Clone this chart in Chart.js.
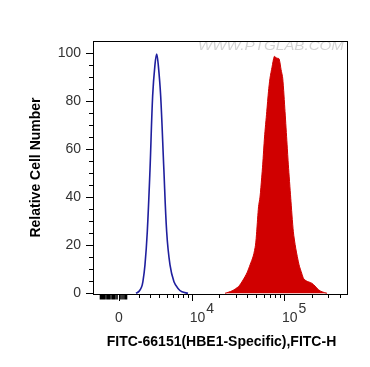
<!DOCTYPE html>
<html>
<head>
<meta charset="utf-8">
<script src="https://cdn.jsdelivr.net/npm/chart.js@4"></script>
<style>
  html, body { margin: 0; padding: 0; background: #fff; }
  #wrap { width: 370px; height: 367px; }
</style>
</head>
<body>
<div id="wrap"><canvas id="hist" width="370" height="367"></canvas></div>
<script>
// x values are display positions on the biexponential axis (10^4 -> 4, 10^5 -> 5)
const isotypeX = [3.397, 3.429, 3.456, 3.472, 3.494, 3.519, 3.548, 3.577, 3.602, 3.621, 3.638, 3.664, 3.698, 3.729, 3.765, 3.808, 3.852, 3.895, 3.960];
const isotypeY = [0, 0.8, 2.5, 5, 11.8, 25.6, 51, 82, 95, 99.5, 95, 82, 52, 25.6, 11.8, 4.8, 2, 0.6, 0];

const stainedX = [4.361, 4.437, 4.507, 4.556, 4.599, 4.632, 4.667, 4.691, 4.704, 4.724, 4.740, 4.758, 4.769, 4.789, 4.813, 4.832, 4.848, 4.870, 4.895, 4.919, 4.946, 4.968, 4.986, 5.011, 5.033, 5.047, 5.073, 5.101, 5.127, 5.163, 5.192, 5.211, 5.238, 5.300, 5.336, 5.372, 5.412, 5.466];
const stainedY = [0, 1, 2.8, 5.5, 8.5, 11.8, 15.5, 20, 25.6, 36, 40, 48, 53.4, 65, 75.5, 84, 89.4, 94, 98.5, 97.8, 97.5, 93, 89.4, 75.5, 62, 53.4, 39.5, 25.6, 18.7, 11.8, 8.3, 6.2, 5.2, 4.2, 3, 1.5, 0.6, 0];

const yMajorTicks = [0, 20, 40, 60, 80, 100];
const yMinorTicks = [5, 10, 15, 25, 30, 35, 45, 50, 55, 65, 70, 75, 85, 90, 95];

const xMajorTicks = [3.212, 4, 5];
const xMajorLabels = ['0', '10', '10'];
const xMajorExps = ['', '4', '5'];
const xNearZeroTicks = [3.012, 3.028, 3.044, 3.061, 3.082, 3.099, 3.115, 3.137, 3.153, 3.169, 3.191, 3.234, 3.256, 3.277, 3.294];
const xMinorTicks = [
  3.432, 3.548, 3.649, 3.729, 3.801, 3.855, 3.909, 3.963,
  4.301, 4.477, 4.602, 4.699, 4.778, 4.845, 4.903, 4.954,
  5.301, 5.477, 5.602
];

const xTitle = 'FITC-66151(HBE1-Specific),FITC-H';
const yTitle = 'Relative Cell Number';
const watermark = 'WWW.PTGLAB.COM';

const FONT = '"Liberation Sans", Arial, sans-serif';

const axesPlugin = {
  id: 'flowAxes',
  beforeDatasetsDraw(chart) {
    const { ctx, chartArea: a } = chart;
    ctx.save();
    ctx.font = 'italic 13px ' + FONT;
    ctx.fillStyle = '#d4d4d4';
    ctx.textAlign = 'left';
    ctx.textBaseline = 'middle';
    const w = ctx.measureText(watermark).width;
    const target = 146;
    ctx.translate(a.right - 4 - target, a.top + 5);
    ctx.scale(target / w, 1);
    ctx.fillText(watermark, 0, 0);
    ctx.restore();
  },
  afterDraw(chart) {
    const { ctx, chartArea: a, scales: { x, y } } = chart;
    ctx.save();
    ctx.strokeStyle = '#000';
    ctx.lineWidth = 1;
    ctx.strokeRect(a.left + 0.5, a.top + 0.5, a.right - a.left - 1, a.bottom - a.top);

    ctx.beginPath();
    yMajorTicks.forEach(v => {
      const py = Math.round(y.getPixelForValue(v)) + 0.5;
      ctx.moveTo(a.left - 7, py); ctx.lineTo(a.left, py);
    });
    yMinorTicks.forEach(v => {
      const py = Math.round(y.getPixelForValue(v)) + 0.5;
      ctx.moveTo(a.left - 4, py); ctx.lineTo(a.left, py);
    });
    xMajorTicks.forEach(v => {
      const px = Math.round(x.getPixelForValue(v)) + 0.5;
      ctx.moveTo(px, a.bottom); ctx.lineTo(px, a.bottom + 7);
    });
    xMinorTicks.forEach(v => {
      const px = Math.round(x.getPixelForValue(v)) + 0.5;
      ctx.moveTo(px, a.bottom); ctx.lineTo(px, a.bottom + 4);
    });
    ctx.stroke();

    // dense ticks around zero (linear part of the biexponential axis)
    ctx.beginPath();
    ctx.lineWidth = 1.6;
    xNearZeroTicks.forEach(v => {
      const px = x.getPixelForValue(v);
      ctx.moveTo(px, a.bottom); ctx.lineTo(px, a.bottom + 5.5);
    });
    ctx.stroke();

    ctx.fillStyle = '#333';
    ctx.font = '14px ' + FONT;
    ctx.textAlign = 'right';
    ctx.textBaseline = 'middle';
    yMajorTicks.forEach(v => ctx.fillText(String(v), a.left - 12, y.getPixelForValue(v)));

    xMajorTicks.forEach((v, i) => {
      const px = x.getPixelForValue(v);
      if (!xMajorExps[i]) {
        ctx.textAlign = 'center';
        ctx.fillText(xMajorLabels[i], px, a.bottom + 24);
      } else {
        ctx.textAlign = 'left';
        const bx = px - 2;
        ctx.fillText(xMajorLabels[i], bx, a.bottom + 24);
        const w = ctx.measureText(xMajorLabels[i]).width;
        ctx.fillText(xMajorExps[i], bx + w + 1, a.bottom + 15);
      }
    });

    ctx.fillStyle = '#000';
    ctx.font = 'bold 14px ' + FONT;
    ctx.textAlign = 'center';
    ctx.fillText(xTitle, (a.left + a.right) / 2 + 1, a.bottom + 48);

    ctx.translate(36, (a.top + a.bottom) / 2);
    ctx.rotate(-Math.PI / 2);
    ctx.fillText(yTitle, 0, 0);
    ctx.restore();
  }
};

new Chart(document.getElementById('hist'), {
  type: 'line',
  data: {
    datasets: [
      {
        label: 'HBE1',
        data: stainedX.map((v, i) => ({ x: v, y: stainedY[i] })),
        borderColor: '#d00000',
        backgroundColor: '#d00000',
        borderWidth: 1,
        fill: 'origin',
        tension: 0.25,
        pointRadius: 0
      },
      {
        label: 'Isotype',
        data: isotypeX.map((v, i) => ({ x: v, y: isotypeY[i] })),
        borderColor: '#1f1f9e',
        borderWidth: 1.6,
        fill: false,
        tension: 0.35,
        pointRadius: 0
      }
    ]
  },
  options: {
    responsive: false,
    animation: false,
    devicePixelRatio: 1,
    layout: { padding: { left: 93, top: 41, right: 22, bottom: 73 } },
    plugins: { legend: { display: false }, tooltip: { enabled: false } },
    scales: {
      x: { type: 'linear', min: 2.931, max: 5.693, display: false },
      y: { min: -0.3, max: 104.9, display: false }
    }
  },
  plugins: [axesPlugin]
});
</script>
</body>
</html>
